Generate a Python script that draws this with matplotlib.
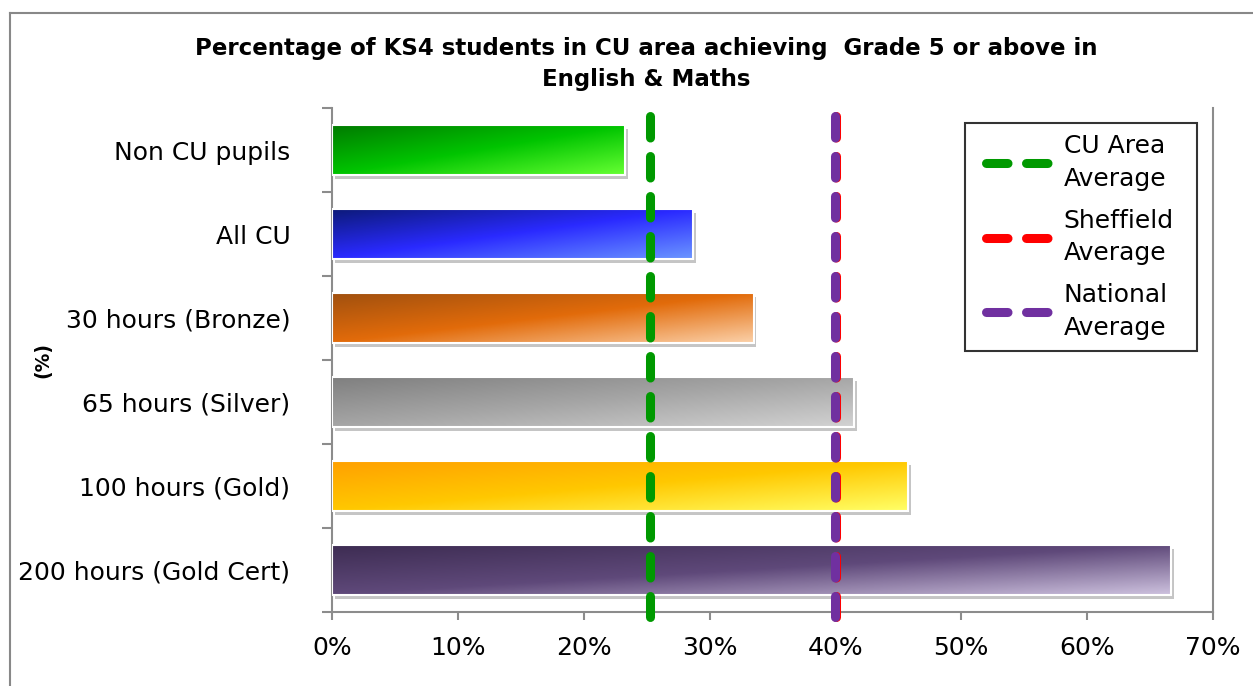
import matplotlib
matplotlib.use("Agg")
import matplotlib.pyplot as plt
import numpy as np
from matplotlib.colors import LinearSegmentedColormap, to_rgb
from matplotlib.lines import Line2D
from matplotlib.legend_handler import HandlerLine2D
from matplotlib import patheffects as pe
import matplotlib.transforms as mtransforms

# ---------------------------------------------------------------------------
# Data
# ---------------------------------------------------------------------------
categories = ["Non CU pupils", "All CU", "30 hours (Bronze)",
              "65 hours (Silver)", "100 hours (Gold)", "200 hours (Gold Cert)"]
values = [23.3, 28.7, 33.5, 41.5, 45.8, 66.7]

avg_labels = ["CU Area\nAverage", "Sheffield\nAverage", "National\nAverage"]
avg_values = [25.3, 40.05, 40.0]
avg_colors = ["#009900", "#ff0000", "#7030a0"]

# gradient stops for each bar: dark (top-left) -> mid -> light (bottom-right)
bar_gradients = [
    ("#007a00", "#00c400", "#66ff33"),
    ("#0c1a78", "#2a2aff", "#6b95ff"),
    ("#a0500f", "#e26b0a", "#fbd0a8"),
    ("#7f7f7f", "#a6a6a6", "#d2d2d2"),
    ("#ffa000", "#ffc800", "#ffff66"),
    ("#3d2c52", "#5f497a", "#cdc1de"),
]

title = "Percentage of KS4 students in CU area achieving  Grade 5 or above in\nEnglish & Maths"

plt.rcParams["font.family"] = ["DejaVu Sans"]
plt.rcParams["lines.scale_dashes"] = False


class ShiftedLine(HandlerLine2D):
    """Legend line that starts a little further from the frame."""
    shift_em = 0.4

    def create_artists(self, legend, orig_handle, xdescent, ydescent, width,
                       height, fontsize, trans):
        s = self.shift_em * fontsize
        return super().create_artists(legend, orig_handle, xdescent - s, ydescent,
                                      width - s, height, fontsize, trans)


fig = plt.figure(figsize=(12.53, 6.86), dpi=100)
ax = fig.add_axes([0.265, 0.108, 0.703, 0.7345])

y = np.arange(len(categories))
bar_h = 0.6
dash = (15.5, 13.3)

# shadow layer
ax.barh(y, values, height=bar_h, color="white", zorder=1,
        path_effects=[pe.SimplePatchShadow(offset=(2, -3), shadow_rgbFace="#808080", alpha=0.45),
                      pe.Normal()])

# gradient fill clipped to each bar
bars = ax.barh(y, values, height=bar_h, facecolor="none", edgecolor="white",
               linewidth=1.5, zorder=3)
gx, gy = np.meshgrid(np.linspace(0, 1, 200), np.linspace(0, 1, 40))
tgrid = 0.5 * gx + 0.5 * gy
for rect, stops in zip(bars, bar_gradients):
    cmap = LinearSegmentedColormap.from_list("g", [to_rgb(c) for c in stops])
    x0, y0 = rect.get_x(), rect.get_y()
    w, h = rect.get_width(), rect.get_height()
    im = ax.imshow(cmap(tgrid), extent=(x0, x0 + w, y0 + h, y0), origin="upper",
                   aspect="auto", zorder=2, interpolation="bilinear")
    im.set_clip_path(rect)

# average lines
trans = mtransforms.blended_transform_factory(ax.transData, ax.transAxes)
for v, c in zip(avg_values, avg_colors):
    ax.plot([v, v], [0.984, -0.01], transform=trans, color=c, linewidth=6.5,
            dashes=dash, dash_capstyle="round", zorder=4, clip_on=False)

ax.set_xlim(0, 70)
ax.set_ylim(len(categories) - 0.5, -0.5)

ax.set_yticks(y)
ax.set_yticklabels(categories, fontsize=18)
ax.set_yticks(np.arange(-0.5, len(categories)), minor=True)
ax.tick_params(axis="y", which="major", length=0, pad=30)
ax.tick_params(axis="y", which="minor", length=7, width=1.5, color="#8c8c8c", direction="out")

ax.set_xticks(np.arange(0, 71, 10))
ax.set_xticklabels([f"{v}%" for v in range(0, 71, 10)], fontsize=18)
ax.tick_params(axis="x", length=6, width=1.5, color="#8c8c8c", pad=11)

for side in ["left", "bottom", "right"]:
    ax.spines[side].set_color("#8c8c8c")
    ax.spines[side].set_linewidth(1.5)
ax.spines["top"].set_visible(False)

ax.set_ylabel("(%)", fontsize=13.5, fontweight="bold", labelpad=0)
ax.yaxis.set_label_coords(-0.318, 0.5)

handles = [Line2D([0], [0], color=c, linewidth=6.5, dashes=dash,
                  dash_capstyle="round") for c in avg_colors]
leg = ax.legend(handles, avg_labels, loc="upper left",
                bbox_to_anchor=(0.7185, 0.5, 0.2633, 0.4705), mode="expand",
                fontsize=18, frameon=True, fancybox=False, handlelength=3.15,
                handler_map={Line2D: ShiftedLine()},
                handletextpad=0.35, labelspacing=0.72, borderpad=0.45, borderaxespad=0)
for t in leg.get_texts():
    t.set_linespacing(1.45)
leg.get_frame().set_edgecolor("black")
leg.get_frame().set_linewidth(1.5)
leg.set_zorder(6)

fig.text(0.516, 0.907, title, ha="center", va="center", fontsize=16.5,
         fontweight="bold", linespacing=1.45)

# outer chart frame
fig.add_artist(Line2D([0.008, 0.008], [0, 0.981], transform=fig.transFigure,
                      color="#888888", linewidth=1.5))
fig.add_artist(Line2D([0.008, 1], [0.981, 0.981], transform=fig.transFigure,
                      color="#888888", linewidth=1.5))

fig.savefig("out.png", dpi=100)
